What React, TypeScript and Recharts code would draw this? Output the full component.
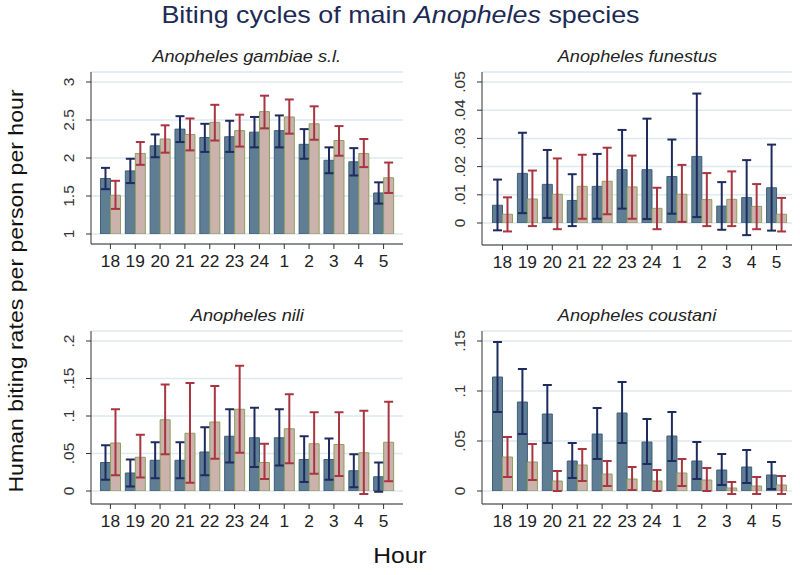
import React from 'react';
import { BarChart, Bar, XAxis, YAxis, CartesianGrid, ErrorBar } from 'recharts';

const hours = ['18', '19', '20', '21', '22', '23', '24', '1', '2', '3', '4', '5'];

// An. gambiae s.l.
const gambiaeA = [1.73, 1.83, 2.16, 2.38, 2.27, 2.28, 2.34, 2.36, 2.18, 1.97, 1.95, 1.54];
const gambiaeALo = [1.59, 1.67, 2.01, 2.21, 2.08, 2.08, 2.14, 2.14, 1.99, 1.80, 1.77, 1.40];
const gambiaeAHi = [1.87, 1.99, 2.31, 2.55, 2.45, 2.49, 2.54, 2.56, 2.38, 2.14, 2.13, 1.68];
const gambiaeB = [1.51, 2.06, 2.25, 2.31, 2.47, 2.36, 2.61, 2.54, 2.45, 2.23, 2.06, 1.74];
const gambiaeBLo = [1.33, 1.91, 2.07, 2.10, 2.23, 2.15, 2.39, 2.32, 2.24, 2.03, 1.88, 1.54];
const gambiaeBHi = [1.70, 2.21, 2.43, 2.52, 2.70, 2.57, 2.82, 2.77, 2.68, 2.42, 2.25, 1.94];

// An. funestus
const funestusA = [0.0063, 0.0176, 0.0137, 0.008, 0.013, 0.0189, 0.0189, 0.0165, 0.0236, 0.006, 0.009, 0.0125];
const funestusALo = [-0.0026, 0.0035, 0.0018, -0.0011, 0.0015, 0.0051, 0.0014, 0.0033, 0.0021, -0.0024, -0.0043, -0.0027];
const funestusAHi = [0.0154, 0.032, 0.0259, 0.0173, 0.0245, 0.033, 0.037, 0.0296, 0.0459, 0.0145, 0.0223, 0.0278];
const funestusB = [0.0031, 0.0085, 0.0102, 0.013, 0.0148, 0.0128, 0.0052, 0.0102, 0.0083, 0.0084, 0.0059, 0.0031];
const funestusBLo = [-0.003, -0.0011, -0.0022, 0.0015, 0.0031, 0.0015, -0.0022, 0.0004, -0.0011, -0.0011, -0.0022, -0.003];
const funestusBHi = [0.0091, 0.0186, 0.0229, 0.0242, 0.0267, 0.0239, 0.0125, 0.0206, 0.0177, 0.0183, 0.0138, 0.0089];

// An. nili
const niliA = [0.038, 0.024, 0.041, 0.041, 0.052, 0.073, 0.071, 0.071, 0.042, 0.042, 0.027, 0.019];
const niliALo = [0.015, 0.006, 0.017, 0.017, 0.021, 0.038, 0.032, 0.034, 0.012, 0.015, 0.005, -0.001];
const niliAHi = [0.061, 0.042, 0.065, 0.065, 0.085, 0.109, 0.111, 0.109, 0.073, 0.07, 0.049, 0.038];
const niliB = [0.064, 0.045, 0.095, 0.077, 0.092, 0.109, 0.038, 0.083, 0.063, 0.062, 0.051, 0.065];
const niliBLo = [0.021, 0.018, 0.049, 0.011, 0.043, 0.051, 0.016, 0.037, 0.023, 0.02, -0.004, 0.013];
const niliBHi = [0.109, 0.075, 0.142, 0.144, 0.14, 0.167, 0.063, 0.129, 0.105, 0.105, 0.107, 0.119];

// An. coustani
const coustaniA = [0.114, 0.089, 0.077, 0.03, 0.057, 0.078, 0.049, 0.055, 0.03, 0.021, 0.024, 0.016];
const coustaniALo = [0.079, 0.057, 0.048, 0.013, 0.032, 0.048, 0.027, 0.03, 0.012, 0.006, 0.008, 0.002];
const coustaniAHi = [0.149, 0.122, 0.106, 0.048, 0.083, 0.109, 0.072, 0.079, 0.049, 0.037, 0.041, 0.029];
const coustaniB = [0.034, 0.029, 0.01, 0.026, 0.017, 0.012, 0.01, 0.018, 0.011, 0.003, 0.005, 0.006];
const coustaniBLo = [0.014, 0.011, 0.0, 0.01, 0.005, 0.001, 0.0, 0.005, 0.0, -0.003, -0.003, -0.003];
const coustaniBHi = [0.054, 0.047, 0.02, 0.042, 0.03, 0.024, 0.021, 0.032, 0.023, 0.009, 0.014, 0.015];

const buildRows = (a: number[], aLo: number[], aHi: number[], b: number[], bLo: number[], bHi: number[]) =>
  hours.map((h, i) => ({
    hour: h,
    a: a[i],
    aErr: [a[i] - aLo[i], aHi[i] - a[i]],
    b: b[i],
    bErr: [b[i] - bLo[i], bHi[i] - b[i]],
  }));

const FONT = '"Liberation Sans", Arial, sans-serif';
const AXIS = '#333333';

// stata-ish wide text
const wide = (sx: number): React.CSSProperties => ({ display: 'inline-block', transform: `scaleX(${sx})` });

const YTick = (props: any) => {
  const { x, y, payload, fmt } = props;
  return (
    <g transform={`translate(${x - 10},${y}) rotate(-90)`}>
      <text textAnchor="middle" dy="0" fontSize={15.5} fill="#333" fontFamily={FONT}>
        {fmt(payload.value)}
      </text>
    </g>
  );
};

const XTick = (props: any) => {
  const { x, y, payload } = props;
  return (
    <g transform={`translate(${x},${y}) scale(1.05,1)`}>
      <text textAnchor="middle" dy="0.71em" fontSize={16.5} fill="#222" fontFamily={FONT}>
        {payload.value}
      </text>
    </g>
  );
};

const trimZero = (v: number) => (v === 0 ? '0' : String(v).replace(/^0\./, '.'));

interface PanelProps {
  title: string;
  rows: any[];
  axisX: number;
  axisEnd: number;
  plotTop: number;
  plotBottom: number;
  domain: [number, number];
  ticks: number[];
  padTop: number;
  padBottom: number;
  padLeft: number;
  padRight: number;
}

const Panel: React.FC<PanelProps> = ({ title, rows, axisX, axisEnd, plotTop, plotBottom, domain, ticks, padTop, padBottom, padLeft, padRight }) => {
  const yw = 40;
  const width = axisEnd - axisX + yw + 5;
  const height = plotBottom - plotTop + 5 + 34;
  return (
    <>
      <div style={{ position: 'absolute', left: axisX, width: axisEnd - axisX, top: plotTop - 25, textAlign: 'center', fontStyle: 'italic', fontSize: 16.5, color: '#222', fontFamily: FONT }}>
        <span style={wide(1.1)}>{title}</span>
      </div>
      <div style={{ position: 'absolute', left: axisX - yw, top: plotTop - 5 }}>
        <BarChart width={width} height={height} data={rows} margin={{ top: 5, right: 5, left: 0, bottom: 0 }} barCategoryGap="10%" barGap={0}>
          <CartesianGrid vertical={false} stroke="#dfe9ef" strokeWidth={1.5} />
          <XAxis
            dataKey="hour"
            height={34}
            padding={{ left: padLeft, right: padRight }}
            stroke={AXIS}
            tickSize={5}
            tickMargin={6}
            tick={<XTick />}
            interval={0}
          />
          <YAxis
            width={yw}
            type="number"
            domain={domain}
            ticks={ticks}
            allowDataOverflow
            padding={{ top: padTop, bottom: padBottom }}
            stroke={AXIS}
            tickSize={5}
            tick={<YTick fmt={trimZero} />}
          />
          <Bar dataKey="a" fill="#5f7d93" stroke="#3f6079" strokeWidth={1} isAnimationActive={false}>
            <ErrorBar dataKey="aErr" width={4.5} stroke="#1e2b5e" strokeWidth={2} isAnimationActive={false} />
          </Bar>
          <Bar dataKey="b" fill="#cbb2ad" stroke="#8aa05c" strokeWidth={1} isAnimationActive={false}>
            <ErrorBar dataKey="bErr" width={4.5} stroke="#a8353f" strokeWidth={2} isAnimationActive={false} />
          </Bar>
        </BarChart>
      </div>
    </>
  );
};

const App: React.FC = () => {
  const gambiaeRows = buildRows(gambiaeA, gambiaeALo, gambiaeAHi, gambiaeB, gambiaeBLo, gambiaeBHi);
  const funestusRows = buildRows(funestusA, funestusALo, funestusAHi, funestusB, funestusBLo, funestusBHi);
  const niliRows = buildRows(niliA, niliALo, niliAHi, niliB, niliBLo, niliBHi);
  const coustaniRows = buildRows(coustaniA, coustaniALo, coustaniAHi, coustaniB, coustaniBLo, coustaniBHi);
  return (
    <div style={{ position: 'absolute', left: 0, top: 0, width: 800, height: 575, background: '#fff', fontFamily: FONT }}>
      <div style={{ position: 'absolute', left: 0, width: 800, top: 0, lineHeight: '30px', textAlign: 'center', fontSize: 24, color: '#1c2a55' }}>
        <span style={wide(1.12)}>Biting cycles of main <i>Anopheles</i> species</span>
      </div>
      <div style={{ position: 'absolute', left: 16, top: 291, width: 0, height: 0 }}>
        <div style={{ position: 'absolute', transform: 'translate(-50%, -50%) rotate(-90deg) scaleX(1.1)', whiteSpace: 'nowrap', fontSize: 21, color: '#111' }}>
          Human biting rates per person per hour
        </div>
      </div>
      <div style={{ position: 'absolute', left: 0, width: 800, top: 543, textAlign: 'center', fontSize: 22, color: '#111' }}>
        <span style={wide(1.12)}>Hour</span>
      </div>
      <Panel title="Anopheles gambiae s.l." rows={gambiaeRows} axisX={91} axisEnd={403} plotTop={72} plotBottom={244}
        domain={[1, 3]} ticks={[1, 1.5, 2, 2.5, 3]} padTop={10} padBottom={10} padLeft={7} padRight={7} />
      <Panel title="Anopheles funestus" rows={funestusRows} axisX={482} axisEnd={792} plotTop={72} plotBottom={245}
        domain={[0, 0.05]} ticks={[0, 0.01, 0.02, 0.03, 0.04, 0.05]} padTop={10} padBottom={22} padLeft={8} padRight={3} />
      <Panel title="Anopheles nili" rows={niliRows} axisX={91} axisEnd={403} plotTop={331} plotBottom={504}
        domain={[0, 0.2]} ticks={[0, 0.05, 0.1, 0.15, 0.2]} padTop={10} padBottom={13} padLeft={7} padRight={7} />
      <Panel title="Anopheles coustani" rows={coustaniRows} axisX={482} axisEnd={792} plotTop={331} plotBottom={504}
        domain={[0, 0.15]} ticks={[0, 0.05, 0.1, 0.15]} padTop={10} padBottom={13} padLeft={8} padRight={3} />
    </div>
  );
};

export default App;
